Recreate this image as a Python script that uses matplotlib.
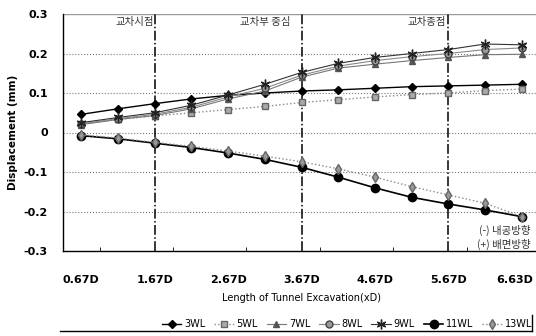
import numpy as np
import matplotlib.pyplot as plt
from matplotlib.lines import Line2D
from matplotlib.transforms import ScaledTranslation

plt.rcParams['font.family'] = ['DejaVu Sans', 'Noto Sans CJK KR']

# Tunnel excavation length (categories, every 0.5D)
lengths = ['0.67D', '1.17D', '1.67D', '2.17D', '2.67D', '3.17D', '3.67D',
           '4.17D', '4.67D', '5.17D', '5.67D', '6.17D', '6.63D']

# Displacement (mm) per wall level
wl3 = [0.046, 0.060, 0.073, 0.085, 0.094, 0.100, 0.105, 0.108, 0.112, 0.116, 0.118, 0.120, 0.122]
wl5 = [0.022, 0.033, 0.042, 0.050, 0.058, 0.066, 0.076, 0.083, 0.090, 0.096, 0.100, 0.106, 0.110]
wl7 = [0.020, 0.033, 0.043, 0.060, 0.085, 0.105, 0.140, 0.163, 0.173, 0.182, 0.190, 0.197, 0.198]
wl8 = [0.022, 0.035, 0.046, 0.064, 0.090, 0.112, 0.145, 0.168, 0.182, 0.192, 0.200, 0.210, 0.214]
wl9 = [0.025, 0.038, 0.050, 0.069, 0.095, 0.122, 0.152, 0.175, 0.190, 0.200, 0.210, 0.224, 0.222]
wl11 = [-0.008, -0.016, -0.027, -0.038, -0.052, -0.068, -0.088, -0.113, -0.140, -0.164, -0.181, -0.196, -0.213]
wl13 = [-0.006, -0.014, -0.025, -0.035, -0.047, -0.060, -0.074, -0.092, -0.113, -0.137, -0.158, -0.179, -0.213]

# Section markers (category index) and their labels
section_idx = [2, 6, 10]
section_names = ['교차시점', '교차부 중심', '교차종점']

y_ticks = [0.3, 0.2, 0.1, 0, -0.1, -0.2, -0.3]
y_labels = ['0.3', '0.2', '0.1', '0', '-0.1', '-0.2', '-0.3']

W, H = 536, 336
fig = plt.figure(figsize=(W / 100, H / 100), dpi=100)
ax = fig.add_axes([63 / W, 1 - 251 / H, 477 / W, 237 / H])

x = np.arange(len(lengths))

ax.plot(x, wl3, '-', color='black', lw=1.0, marker='D', ms=4, label='3WL')
ax.plot(x, wl5, ':', color='#888888', lw=1.0, marker='s', ms=5,
        mfc='#aaaaaa', mec='#666666', label='5WL')
ax.plot(x, wl7, '-', color='#777777', lw=0.8, marker='^', ms=5,
        mfc='#555555', mec='#555555', label='7WL')
ax.plot(x, wl8, '-', color='#888888', lw=0.8, marker='o', ms=5,
        mfc='#999999', mec='#444444', label='8WL')
ax.plot(x, wl9, '-', color='#333333', lw=0.8, marker=(6, 2, 0), ms=7,
        mec='#222222', label='9WL')
ax.plot(x, wl11, '-', color='black', lw=1.2, marker='o', ms=6, label='11WL')
ax.plot(x, wl13, ':', color='#888888', lw=1.0, marker='d', ms=5,
        mfc='#999999', mec='#666666', label='13WL')

ax.set_xlim(-0.5, len(lengths) - 0.5)
ax.set_ylim(-0.3, 0.3)

# gridlines
for yv in [0.2, 0.1, 0, -0.1, -0.2]:
    ax.axhline(yv, color='#777777', ls=':', lw=0.8, zorder=0)
ax.axhline(0.3, color='#999999', ls='-', lw=1.0, zorder=0)

# section lines and labels
for i in section_idx:
    ax.axvline(i, color='black', ls='-.', lw=1.1, zorder=1)
for xi, name in zip([1.45, 5.0, 9.4], section_names):
    ax.text(xi, 0.28, name, ha='center', va='center', fontsize=7.5,
            color='#333333', family=['Noto Sans CJK KR', 'DejaVu Sans'])

ax.text(12.25, -0.248, '(-) 내공방향', ha='right', va='center', fontsize=7.5,
        color='#333333', family=['Noto Sans CJK KR', 'DejaVu Sans'])
ax.text(12.25, -0.284, '(+) 배면방향', ha='right', va='center', fontsize=7.5,
        color='#333333', family=['Noto Sans CJK KR', 'DejaVu Sans'])

# axes
ax.spines['top'].set_visible(False)
ax.spines['right'].set_visible(False)
ax.spines['left'].set_linewidth(1.0)
ax.spines['bottom'].set_linewidth(1.0)

ax.set_yticks(y_ticks)
ax.set_yticklabels(y_labels, fontsize=8, fontweight='bold')
ax.tick_params(axis='y', length=0, pad=11)

ax.set_xticks(x[::2])
ax.set_xticklabels(lengths[::2], fontsize=8, fontweight='bold')
ax.set_xticks(np.arange(0.5, len(lengths) - 1, 2), minor=True)
ax.tick_params(axis='x', which='major', length=0, pad=17)
ax.tick_params(axis='x', which='minor', length=3, direction='in')
# keep the last label inside the canvas
last = ax.get_xticklabels()[-1]
last.set_transform(last.get_transform() + ScaledTranslation(-7 / 100, 0, fig.dpi_scale_trans))

ax.set_xlabel('Length of Tunnel Excavation(xD)', fontsize=7, labelpad=6)
fig.text(13 / W, 1 - 132 / H, 'Displacement (mm)', rotation=90, ha='center',
         va='center', fontsize=7.5, fontweight='bold')

fig.legend(loc='center right', bbox_to_anchor=(534 / W, 1 - 324 / H), ncol=7,
           fontsize=7, frameon=False, handlelength=2.0, columnspacing=0.9,
           handletextpad=0.3, borderaxespad=0, borderpad=0.2)
fig.add_artist(Line2D([60 / W, 532 / W], [1 - 331 / H, 1 - 331 / H],
                      color='black', lw=1.0, transform=fig.transFigure))
fig.add_artist(Line2D([532 / W, 532 / W], [1 - 331 / H, 1 - 315 / H],
                      color='black', lw=1.0, transform=fig.transFigure))

fig.savefig('out.png', dpi=100)
